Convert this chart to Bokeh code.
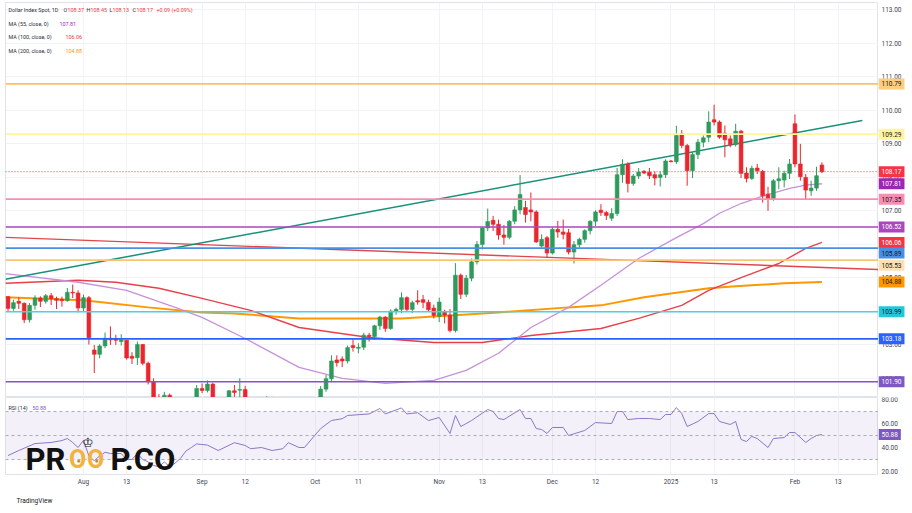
import numpy as np
import pandas as pd
from bokeh.plotting import figure
from bokeh.layouts import column, row
from bokeh.models import (Range1d, Label, FixedTicker, ColumnDataSource, Span,
                          BoxAnnotation, Title)
from bokeh.core.properties import value
from bokeh.embed import file_html
from bokeh.resources import INLINE

# ---------------- data ----------------
start_date = "2024-07-12"
end_date = "2025-02-10"

open_ = [104.44, 104.09, 104.30, 104.24, 103.75, 104.18, 104.40, 104.30, 104.47, 104.38,
         104.36, 104.32, 104.57, 104.55, 104.10, 104.41, 102.85, 102.72, 102.97, 103.20,
         103.18, 103.10, 103.14, 102.66, 102.62, 103.01, 102.45, 101.90, 101.43, 101.10,
         101.50, 100.68, 100.85, 100.53, 101.10, 101.33, 101.70, 101.64, 101.83, 101.35,
         101.09, 101.18, 101.63, 101.65, 101.67, 101.37, 101.10, 100.75, 100.90, 100.97,
         100.63, 100.72, 100.87, 100.37, 100.91, 100.56, 100.38, 100.78, 101.20, 101.68,
         101.99, 102.55, 102.58, 102.52, 102.98, 102.90, 102.93, 103.29, 103.25, 103.57,
         103.83, 103.49, 104.01, 104.06, 104.41, 104.06, 104.32, 104.35, 104.27, 104.10,
         103.85, 104.00, 103.89, 103.43, 105.08, 104.51, 104.99, 105.48, 106.00, 106.49,
         106.72, 106.60, 106.28, 106.21, 106.69, 107.03, 107.10, 107.03, 106.97, 105.95,
         106.20, 105.74, 106.45, 106.37, 106.35, 105.77, 105.99, 106.15, 106.41, 106.69,
         107.02, 106.95, 106.78, 106.92, 108.08, 108.39, 107.82, 108.04, 108.18, 108.15,
         108.08, 108.00, 108.08, 108.49, 108.47, 109.30, 108.95, 108.20, 108.68, 109.05,
         109.20, 109.72, 109.65, 109.32, 109.15, 108.98, 109.38, 108.13, 107.97, 108.28,
         108.18, 107.50, 107.37, 107.90, 107.92, 108.12, 109.60, 108.40, 108.00, 107.60,
         107.68, 108.37]
high_ = [104.46, 104.35, 104.42, 104.27, 104.25, 104.48, 104.45, 104.52, 104.55, 104.44,
         104.44, 104.70, 104.80, 104.63, 104.50, 104.46, 103.00, 103.02, 103.37, 103.55,
         103.30, 103.32, 103.15, 102.78, 103.10, 103.03, 102.50, 102.00, 101.53, 101.60,
         101.55, 100.94, 100.90, 101.15, 101.40, 101.80, 101.85, 101.94, 101.87, 101.39,
         101.40, 101.65, 101.80, 102.00, 101.78, 101.42, 101.15, 101.00, 101.47, 101.45,
         100.88, 101.05, 100.95, 101.00, 100.95, 100.68, 100.86, 101.32, 101.77, 102.10,
         102.69, 102.69, 102.66, 102.98, 103.17, 103.05, 103.36, 103.36, 103.60, 103.87,
         103.86, 104.06, 104.11, 104.57, 104.45, 104.32, 104.63, 104.49, 104.35, 104.20,
         104.41, 104.05, 104.07, 105.44, 105.13, 105.09, 105.58, 106.10, 106.53, 107.07,
         106.85, 106.74, 106.58, 106.73, 107.14, 108.07, 107.30, 107.55, 107.02, 106.30,
         106.25, 106.51, 106.70, 106.74, 106.46, 106.10, 106.20, 106.45, 106.72, 107.02,
         107.20, 107.00, 107.08, 108.28, 108.54, 108.45, 108.10, 108.28, 108.22, 108.28,
         108.18, 108.18, 108.54, 108.52, 109.54, 109.41, 109.00, 108.75, 109.15, 109.25,
         109.97, 110.17, 109.70, 109.55, 109.25, 109.60, 109.42, 108.30, 108.35, 108.40,
         108.22, 107.72, 107.95, 108.30, 108.20, 108.55, 109.88, 109.00, 108.10, 107.90,
         108.32, 108.45]
low_ = [103.99, 104.02, 104.07, 103.65, 103.67, 104.05, 104.13, 104.23, 104.19, 104.07,
        104.14, 104.29, 104.40, 103.97, 103.99, 103.01, 102.16, 102.60, 102.90, 103.00,
        103.00, 102.98, 102.56, 102.43, 102.40, 102.39, 101.82, 101.30, 100.92, 101.02,
        100.60, 100.52, 100.45, 100.46, 100.98, 101.20, 101.56, 101.58, 101.26, 100.98,
        100.70, 101.12, 101.45, 101.35, 101.26, 100.90, 100.62, 100.40, 100.21, 100.50,
        100.45, 100.60, 100.22, 100.22, 100.35, 100.16, 100.16, 100.62, 101.12, 101.60,
        101.89, 102.35, 102.34, 102.45, 102.80, 102.75, 102.85, 103.10, 103.15, 103.45,
        103.39, 103.45, 103.90, 103.95, 104.00, 103.95, 104.20, 104.10, 103.98, 103.79,
        103.68, 103.64, 103.37, 103.37, 104.37, 104.43, 104.90, 105.40, 105.85, 106.40,
        106.40, 106.14, 105.99, 106.15, 106.60, 106.90, 106.65, 106.69, 106.05, 105.90,
        105.60, 105.70, 106.20, 106.15, 105.70, 105.43, 105.90, 106.05, 106.30, 106.55,
        106.85, 106.73, 106.70, 106.85, 107.84, 107.55, 107.75, 107.95, 108.10, 107.95,
        107.76, 107.73, 107.98, 108.45, 108.40, 108.87, 107.75, 107.98, 108.55, 108.90,
        109.05, 109.55, 109.15, 108.60, 108.90, 108.92, 107.98, 107.85, 107.92, 108.10,
        107.25, 107.00, 107.30, 107.65, 107.70, 107.95, 108.30, 107.90, 107.35, 107.45,
        107.60, 108.13]
close_ = [104.09, 104.26, 104.24, 103.75, 104.18, 104.40, 104.30, 104.47, 104.38, 104.33,
          104.32, 104.57, 104.55, 104.10, 104.41, 103.21, 102.72, 102.97, 103.20, 103.15,
          103.14, 103.15, 102.61, 102.60, 103.01, 102.45, 101.90, 101.43, 101.10, 101.50,
          100.68, 100.85, 100.53, 101.10, 101.33, 101.70, 101.64, 101.83, 101.35, 101.09,
          101.18, 101.63, 101.58, 101.67, 101.37, 101.10, 100.75, 100.90, 100.97, 100.63,
          100.72, 100.87, 100.37, 100.91, 100.56, 100.38, 100.78, 101.20, 101.68, 101.99,
          102.52, 102.47, 102.52, 102.92, 102.92, 102.93, 103.29, 103.25, 103.57, 103.83,
          103.49, 104.01, 104.06, 104.41, 104.06, 104.26, 104.28, 104.27, 104.05, 103.88,
          104.28, 103.89, 103.43, 105.08, 104.51, 104.99, 105.48, 106.00, 106.49, 106.68,
          106.60, 106.28, 106.21, 106.69, 107.03, 107.49, 106.89, 106.97, 106.07, 106.15,
          105.74, 106.45, 106.37, 106.30, 105.77, 105.99, 106.15, 106.41, 106.69, 106.97,
          106.95, 106.86, 106.92, 108.08, 108.39, 107.82, 108.04, 108.16, 108.13, 108.05,
          107.98, 108.08, 108.49, 108.47, 109.25, 108.95, 108.20, 108.68, 109.05, 109.18,
          109.65, 109.65, 109.20, 109.12, 108.98, 109.38, 108.12, 107.97, 108.27, 108.20,
          107.45, 107.37, 107.90, 107.96, 108.12, 108.40, 108.40, 108.02, 107.62, 107.68,
          108.05, 108.17]

tick_dates = ["2024-08-01", "2024-08-13", "2024-09-02", "2024-09-12", "2024-10-01",
              "2024-10-11", "2024-11-01", "2024-11-13", "2024-12-02", "2024-12-12",
              "2025-01-01", "2025-01-13", "2025-02-03", "2025-02-13"]
tick_labels = ["Aug", "13", "Sep", "12", "Oct", "11", "Nov", "13", "Dec", "12",
               "2025", "13", "Feb", "13"]
price_ticks = [102, 103, 104, 105, 106, 107, 108, 109, 110, 111, 112, 113]
rsi_ticks = [20, 40, 60, 80]

# moving averages (bar index, value)
ma55_bar = [-0.5, 13, 22, 31, 36, 44, 54, 62, 70, 79, 85, 91, 97, 104, 110, 117, 124,
            129, 132, 136, 140, 145, 148, 151]
ma55_val = [105.13, 104.87, 104.63, 104.12, 103.82, 103.19, 102.33, 102.00, 101.85,
            101.94, 102.24, 102.75, 103.52, 104.12, 104.78, 105.58, 106.20, 106.62,
            106.93, 107.22, 107.44, 107.67, 107.77, 107.81]
ma100_bar = [-0.5, 13, 20, 28, 36, 45, 54, 67, 79, 88, 97, 110, 117, 125, 130, 136,
             143, 148, 151]
ma100_val = [104.84, 104.93, 104.87, 104.69, 104.39, 104.03, 103.52, 103.22, 103.07,
             103.07, 103.28, 103.49, 103.79, 104.18, 104.63, 105.01, 105.43, 105.88,
             106.06]
ma200_bar = [-0.5, 14, 26, 36, 42, 54, 73, 82, 91, 104, 110, 118, 130, 135, 144, 151]
ma200_val = [104.42, 104.33, 104.12, 103.97, 103.94, 103.79, 103.79, 103.88, 103.97,
             104.12, 104.18, 104.42, 104.69, 104.75, 104.84, 104.88]

rsi_bar = [0, 2, 5, 8, 10, 11, 12, 13, 14, 15,
           16, 17, 18, 19, 21, 22, 23, 24, 25, 26,
           27, 28, 29, 30, 31, 32, 33, 34, 35, 37,
           39, 42, 44, 45, 47, 49, 51, 52, 54, 55,
           58, 60, 62, 63, 67, 69, 70, 73, 74, 76,
           78, 80, 82, 83, 84, 86, 89, 90, 91, 92,
           95, 96, 97, 98, 99, 100, 101, 103, 104, 107,
           109, 112, 113, 114, 115, 117, 119, 121, 122, 123,
           124, 125, 126, 128, 130, 131, 132, 134, 135, 136,
           137, 138, 139, 141, 142, 144, 145, 146, 148, 149,
           150, 151]
rsi_val = [33.3, 37.5, 43.3, 44.2, 45.8, 47.5, 44.2, 40, 46, 33,
           29, 33, 36, 35, 35, 30, 30, 35, 30, 28,
           25, 24, 28, 24, 27, 31, 37, 40, 43, 42,
           37.5, 44, 41.7, 39, 40, 37.5, 39, 44, 40, 40,
           55.8, 62.5, 64, 66.7, 68, 72.5, 68, 73, 68, 69,
           62.5, 65, 51.7, 66.7, 57.5, 62.5, 71.7, 70, 64.2, 63.3,
           71.7, 64.2, 64.2, 55.8, 55, 51.7, 56.7, 56.7, 50, 54.2,
           60.8, 60, 70, 70, 63.3, 64.2, 64.2, 63.3, 67.5, 67.5,
           73.3, 68.3, 57.5, 61.7, 68.3, 68.3, 61.7, 59.2, 61.7, 46.7,
           45, 49.2, 47.5, 40, 47.5, 48.3, 52.5, 52.5, 44.2, 47.5,
           50, 50.88]
rsi_levels = [70, 50, 30]

# horizontal levels drawn on the chart
level_values = [110.79, 109.29, 107.35, 106.52, 105.89, 105.53, 103.99, 103.18, 101.90]
level_colors = ["#ffbf66", "#fff59d", "#f48fb1", "#ab47bc", "#4a90e2", "#f8c477",
                "#4dd0e1", "#2962ff", "#7e57c2"]

# trend lines (bar index, value)
trend_up_bar = [-0.47, 158.5]
trend_up_val = [104.96, 109.70]
trend_dn_bar = [-0.47, 161.5]
trend_dn_val = [106.21, 105.25]

# price scale tags
tag_values = [110.79, 109.29, 108.17, 107.81, 107.35, 106.52, 106.06, 105.89, 105.53,
              104.88, 103.99, 103.18, 101.90]
tag_bg = ["#ffcc80", "#fff59d", "#f23645", "#9c27b0", "#f48fb1", "#ab47bc", "#f23645",
          "#4a90e2", "#ffe0b2", "#ff9800", "#26c6da", "#2962ff", "#7e57c2"]
tag_fg = ["#131722", "#131722", "#ffffff", "#ffffff", "#131722", "#ffffff", "#ffffff",
          "#131722", "#131722", "#131722", "#131722", "#ffffff", "#ffffff"]
tag_shift = [0, 0, 0, 0, 0, 0, 0, -5, -5, 0, 0, 0, 0]

last_price = 108.17
ohlc_text = ["108.37", "108.45", "108.13", "108.17", "+0.09 (+0.09%)"]
ma_last = ["107.81", "106.06", "104.88"]
rsi_last = 50.88

# ---------------- build ----------------
FONT = "Roboto"
UP, DOWN = "#2e9a5c", "#e8262d"
FW, FH, RH, SW = 873, 395, 77, 32
GRID = "#f1f3f7"

dates = pd.bdate_range(start_date, end_date)
xs = np.arange(len(dates))
o = np.array(open_); h = np.array(high_); l = np.array(low_); c = np.array(close_)
src = ColumnDataSource(dict(x=xs, high=h, low=l,
                            top=np.maximum(o, c), bottom=np.minimum(o, c),
                            color=[UP if cc >= oo else DOWN for oo, cc in zip(o, c)]))
tick_x = [int(np.busday_count(start_date, d)) for d in tick_dates]

xr = Range1d(-0.47, 161.5)
yr = Range1d(101.43, 113.22)
ryr = Range1d(17.5, 81.7)


def base(fw, fh, x_range, y_range, **kw):
    f = figure(frame_width=fw, frame_height=fh, x_range=x_range, y_range=y_range,
               toolbar_location=None, output_backend="svg", **kw)
    f.background_fill_color = "white"
    return f


def lab(fig, x, y, txt, color="#2a2e39", size="5.4px", **kw):
    fig.add_layout(Label(x=x, y=y, x_units="screen", y_units="screen", text=txt,
                         text_font=FONT, text_font_size=size, text_color=color,
                         text_baseline="middle", **kw))


# ---------------- main price pane ----------------
p = base(FW, FH, xr, yr, x_axis_location=None, y_axis_location=None,
         min_border_left=5, min_border_right=0, min_border_top=2, min_border_bottom=0)
p.outline_line_color = "#e0e3eb"
p.xgrid.ticker = FixedTicker(ticks=tick_x)
p.ygrid.ticker = FixedTicker(ticks=price_ticks)
p.xgrid.grid_line_color = GRID
p.ygrid.grid_line_color = GRID

for v, col in zip(level_values, level_colors):
    p.add_layout(Span(location=v, dimension="width", line_color=col, line_width=1.6))
p.add_layout(Span(location=last_price, dimension="width", line_color="#f23645",
                  line_width=1, line_dash="1 2"))

p.line(ma200_bar, ma200_val, line_color="#ff9800", line_width=2)
p.line(ma100_bar, ma100_val, line_color="#e8404a", line_width=1.4)
p.line(ma55_bar, ma55_val, line_color="#c791d9", line_width=1.3)
p.line(trend_dn_bar, trend_dn_val, line_color="#e0474c", line_width=1.4)
p.line(trend_up_bar, trend_up_val, line_color="#17917a", line_width=1.5)

p.segment(x0="x", y0="low", x1="x", y1="high", color="color", line_width=1, source=src)
p.vbar(x="x", width=0.7, top="top", bottom="bottom", fill_color="color",
       line_color="color", line_width=0.6, source=src)

row_y = [388, 374, 360.5, 347]
lab(p, 3, row_y[0], "Dollar Index Spot, 1D")
for xx, letter in zip([58, 81, 104, 127], ["O", "H", "L", "C"]):
    lab(p, xx, row_y[0], letter)
for xx, t in zip([62, 85, 107, 131, 151], ohlc_text):
    lab(p, xx, row_y[0], t, color="#f23645")
lab(p, 3, row_y[1], "MA (55, close, 0)")
lab(p, 54, row_y[1], ma_last[0], color="#9c27b0")
lab(p, 3, row_y[2], "MA (100, close, 0)")
lab(p, 60, row_y[2], ma_last[1], color="#f23645")
lab(p, 3, row_y[3], "MA (200, close, 0)")
lab(p, 60, row_y[3], ma_last[2], color="#ff9800")

# ---------------- price scale (right) ----------------
ps = base(SW, FH, Range1d(0, 1), yr, x_axis_location=None, y_axis_location=None,
          min_border_left=0, min_border_right=0, min_border_top=2, min_border_bottom=0)
ps.outline_line_color = None
ps.xgrid.grid_line_color = None
ps.ygrid.grid_line_color = None
ps.text(x=[0] * len(price_ticks), y=price_ticks, text=[f"{t:.2f}" for t in price_ticks],
        x_offset=3, text_font=value(FONT), text_font_size="6.5px", text_color="#434651",
        text_baseline="middle", text_align="left")
for v, bg, fg, sh in zip(tag_values, tag_bg, tag_fg, tag_shift):
    ps.add_layout(Label(x=0, y=v, x_units="screen", y_units="data", y_offset=sh,
                        text=f"{v:.2f}", text_font=FONT, text_font_size="6.5px",
                        text_color=fg, text_baseline="middle", text_align="left",
                        background_fill_color=bg, padding=3))

# ---------------- RSI pane ----------------
r = base(FW, RH, xr, ryr, y_axis_location=None,
         min_border_left=5, min_border_right=0, min_border_top=0, min_border_bottom=37)
r.outline_line_color = "#e0e3eb"
r.ygrid.grid_line_color = None
r.xgrid.ticker = FixedTicker(ticks=tick_x)
r.xgrid.grid_line_color = GRID
r.xaxis.ticker = FixedTicker(ticks=tick_x)
r.xaxis.major_label_overrides = {t: s for t, s in zip(tick_x, tick_labels)}
r.xaxis.major_label_text_font_size = "6.5px"
r.xaxis.major_label_text_font = FONT
r.xaxis.major_label_text_color = "#434651"
r.xaxis.major_tick_line_color = None
r.xaxis.minor_tick_line_color = None
r.xaxis.major_tick_out = 0
r.xaxis.major_tick_in = 0
r.xaxis.minor_tick_out = 0
r.xaxis.axis_line_color = None
r.xaxis.major_label_standoff = 3
r.add_layout(Title(text="TradingView", align="left", offset=11, standoff=13,
                   text_font=FONT, text_font_size="6.5px", text_font_style="normal",
                   text_color="#131722"), "below")

r.add_layout(BoxAnnotation(bottom=rsi_levels[2], top=rsi_levels[0], fill_color="#7e57c2",
                           fill_alpha=0.09, line_color=None))
for lv in rsi_levels:
    r.add_layout(Span(location=lv, dimension="width", line_color="#9598a1",
                      line_width=1, line_dash="3 3", line_alpha=0.8))
r.line(rsi_bar, rsi_val, line_color="#8d7bc9", line_width=1)

lab(r, 3, 67, "RSI (14)")
lab(r, 27, 67, f"{rsi_last:.2f}", color="#7e57c2")

# watermark logo
lab(r, 20, 15, "PR", color="#111111", size="31px", text_font_style="bold")
for ex in (72, 90):
    lab(r, ex, 15, "O", color="#f2b33d", size="25px", text_align="center",
        text_font_style="bold")
    lab(r, ex + 1, 14, "\u25CF", color="#c98a2a", size="7px", text_align="center")
lab(r, 82, 32, "\u2654", color="#222222", size="13px", text_align="center")
lab(r, 105, 15, "P.CO", color="#111111", size="31px", text_font_style="bold")

# ---------------- RSI scale (right) ----------------
rs = base(SW, RH, Range1d(0, 1), ryr, x_axis_location=None, y_axis_location=None,
          min_border_left=0, min_border_right=0, min_border_top=0, min_border_bottom=37)
rs.outline_line_color = None
rs.xgrid.grid_line_color = None
rs.ygrid.grid_line_color = None
rs.text(x=[0] * len(rsi_ticks), y=rsi_ticks, text=[f"{t:.2f}" for t in rsi_ticks],
        x_offset=3, text_font=value(FONT), text_font_size="6.5px", text_color="#434651",
        text_baseline="middle", text_align="left")
rs.add_layout(Label(x=0, y=rsi_last, x_units="screen", y_units="data",
                    text=f"{rsi_last:.2f}", text_font=FONT, text_font_size="6.5px",
                    text_color="white", text_baseline="middle", text_align="left",
                    background_fill_color="#7e57c2", padding=3))

layout = row(column(p, r, spacing=0), column(ps, rs, spacing=0), spacing=0)
open("out.html", "w").write(file_html(layout, INLINE, "Dollar Index Spot"))
